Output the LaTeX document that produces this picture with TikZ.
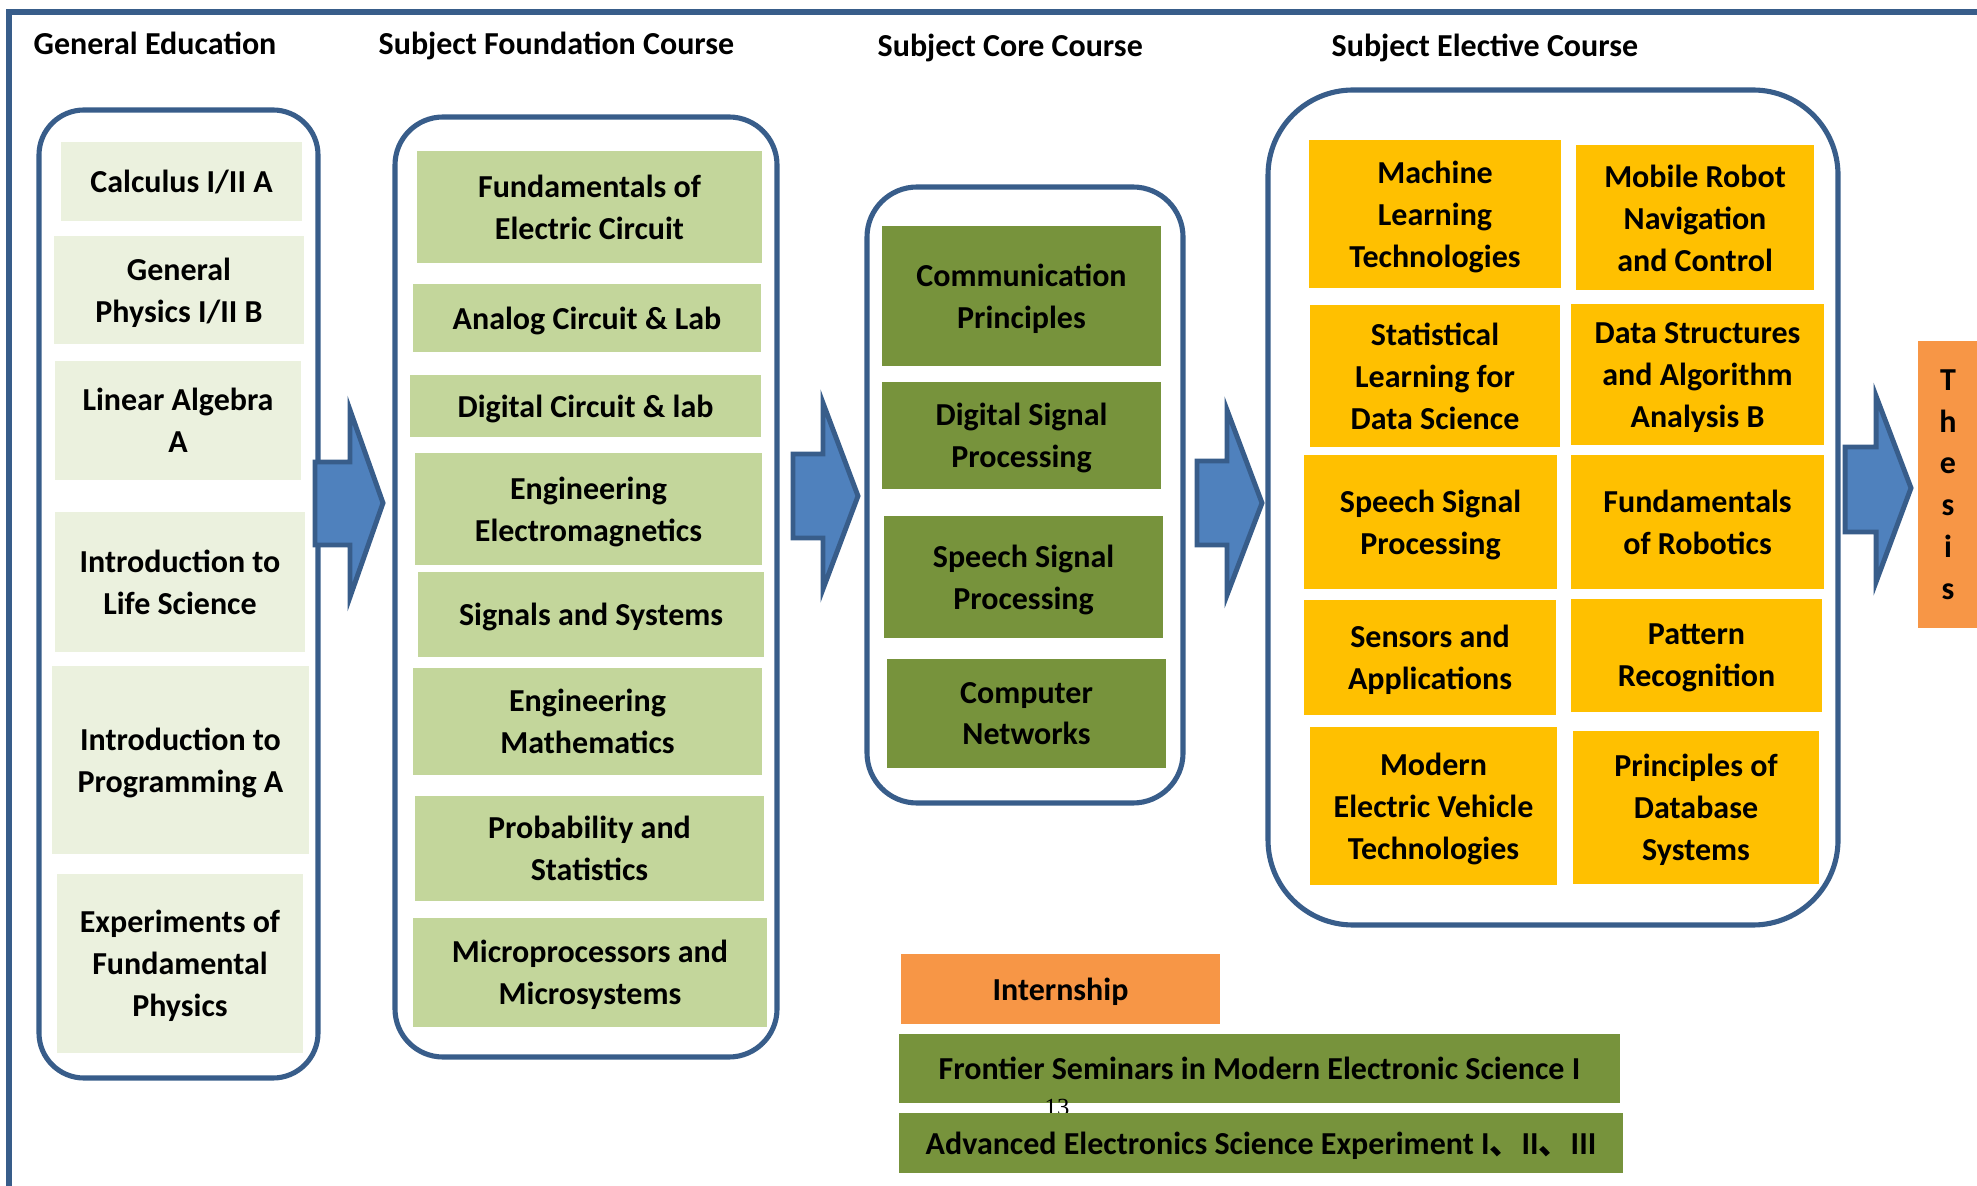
\documentclass[tikz,border=0pt]{standalone}
\usepackage{fontspec}
\setmainfont{Carlito}
\newfontfamily\cjk{Noto Sans CJK SC}
\newfontfamily\pagefont{Liberation Serif}
\definecolor{frameblue}{HTML}{385D8A}
\definecolor{arrowblue}{HTML}{4F81BD}
\definecolor{genfill}{HTML}{EBF1DE}
\definecolor{foundfill}{HTML}{C3D69B}
\definecolor{corefill}{HTML}{77933C}
\definecolor{electfill}{HTML}{FFC000}
\definecolor{extrafill}{HTML}{F79646}
\newcommand\coursefont{\fontsize{9.1}{11.9}\selectfont\bfseries}
\tikzset{
	wh/.style 2 args={minimum width=#1*0.01cm, minimum height=#2*0.01cm},
	course/.style={inner sep=0pt, align=center, text depth=0pt, font=\coursefont},
	gen/.style={course, fill=genfill},
	found/.style={course, fill=foundfill},
	core/.style={course, fill=corefill},
	elect/.style={course, fill=electfill},
	extra/.style={course, fill=extrafill},
	group/.style={draw=frameblue, line width=1.45pt, rounded corners=#1},
	heading/.style={inner sep=0pt, anchor=base west, font=\coursefont},
	blockarrow/.style={draw=frameblue, fill=arrowblue, line width=1.4pt, line join=miter}
}

\begin{document}
\begin{tikzpicture}[x=0.01cm, y=-0.01cm]
	\useasboundingbox (0,0) rectangle (1977,1186);
	\draw[frameblue, line width=1.6pt] (9,1200) |- (1990,12);

	% headings
	\node[heading] (hgen) at (33,55) {General Education};
	\node[heading] (hfound) at (378,55) {Subject Foundation Course};
	\node[heading] (hcore) at (877,57) {Subject Core Course};
	\node[heading] (helect) at (1331,57) {Subject Elective Course};

	% general education
	\draw[group=0.45cm] (39,110) rectangle (318,1078);
	\node[gen, wh={241}{79}] (calc) at (181.5,181.5) {Calculus I/II A};
	\node[gen, wh={250}{108}] (phys) at (179,290) {General\\Physics I/II B};
	\node[gen, wh={246}{119}] (linalg) at (178,420.5) {Linear Algebra\\A};
	\node[gen, wh={250}{140}] (life) at (180,582) {Introduction to\\Life Science};
	\node[gen, wh={257}{188}] (prog) at (180.5,760) {Introduction to\\Programming A};
	\node[gen, wh={246}{179}] (expphys) at (180,963.5) {Experiments of\\Fundamental\\Physics};

	% subject foundation
	\draw[group=0.48cm] (395,117) rectangle (777,1057);
	\node[found, wh={345}{112}] (circuit) at (589.5,207) {Fundamentals of\\Electric Circuit};
	\node[found, wh={348}{68}] (analog) at (587,318) {Analog Circuit \& Lab};
	\node[found, wh={351}{62}] (digital) at (585.5,406) {Digital Circuit \& lab};
	\node[found, wh={347}{112}] (emag) at (588.5,509) {Engineering\\Electromagnetics};
	\node[found, wh={346}{85}] (sigsys) at (591,614.5) {Signals and Systems};
	\node[found, wh={349}{107}] (engmath) at (587.5,721.5) {Engineering\\Mathematics};
	\node[found, wh={349}{105}] (prob) at (589.5,848.5) {Probability and\\Statistics};
	\node[found, wh={354}{109}] (micro) at (590,972.5) {Microprocessors and\\Microsystems};

	% subject core
	\draw[group=0.5cm] (867,187) rectangle (1183,803);
	\node[core, wh={279}{140}] (comm) at (1021.5,296) {Communication\\Principles};
	\node[core, wh={279}{107}] (dsp) at (1021.5,435.5) {Digital Signal\\Processing};
	\node[core, wh={279}{122}] (speech) at (1023.5,577) {Speech Signal\\Processing};
	\node[core, wh={279}{109}] (network) at (1026.5,713.5) {Computer\\Networks};

	% subject elective
	\draw[group=0.85cm] (1268,90) rectangle (1838,925);
	\node[elect, wh={252}{148}] (mlearn) at (1435,214) {Machine\\Learning\\Technologies};
	\node[elect, wh={238}{145}] (robotnav) at (1695,218) {Mobile Robot\\Navigation\\and Control};
	\node[elect, wh={250}{142}] (statlearn) at (1435,376) {Statistical\\Learning for\\Data Science};
	\node[elect, wh={253}{141}] (datastruct) at (1697.5,375) {Data Structures\\and Algorithm\\Analysis B};
	\node[elect, wh={253}{134}] (speechsig) at (1430.5,522) {Speech Signal\\Processing};
	\node[elect, wh={253}{134}] (robotics) at (1697.5,522) {Fundamentals\\of Robotics};
	\node[elect, wh={252}{115}] (sensors) at (1430,657.5) {Sensors and\\Applications};
	\node[elect, wh={251}{113}] (pattern) at (1696.5,655.5) {Pattern\\Recognition};
	\node[elect, wh={247}{158}] (elecveh) at (1433.5,806) {Modern\\Electric Vehicle\\Technologies};
	\node[elect, wh={246}{153}] (database) at (1696,807.5) {Principles of\\Database\\Systems};

	% thesis
	\node[extra, wh={60}{287}] (thesis) at (1948,484.5) {T\\h\\e\\s\\i\\s};

	% block arrows
	\draw[blockarrow] (315,462) -- (350,462) -- (350,410) -- (383,503) -- (350,597) -- (350,545) -- (315,545) -- cycle;
	\draw[blockarrow] (793,454) -- (823,454) -- (823,403) -- (858,496) -- (823,589) -- (823,538) -- (793,538) -- cycle;
	\draw[blockarrow] (1197,461) -- (1227,461) -- (1227,410) -- (1262,503) -- (1227,595) -- (1227,545) -- (1197,545) -- cycle;
	\draw[blockarrow] (1845,447) -- (1876,447) -- (1876,396) -- (1911,488) -- (1876,582) -- (1876,532) -- (1845,532) -- cycle;

	% practice
	\node[extra, wh={319}{70}] (intern) at (1060.5,989) {Internship};
	\node[core, wh={721}{69}] (seminar) at (1259.5,1068.5) {Frontier Seminars in Modern Electronic Science I};
	\node[inner sep=0pt, anchor=north, font=\pagefont\fontsize{7}{8}\selectfont] (pagenum) at (1057,1098) {13};
	\node[core, wh={724}{60}] (experiment) at (1261,1143) {Advanced Electronics Science Experiment I{\cjk 、}II{\cjk 、}III};
\end{tikzpicture}
\end{document}
